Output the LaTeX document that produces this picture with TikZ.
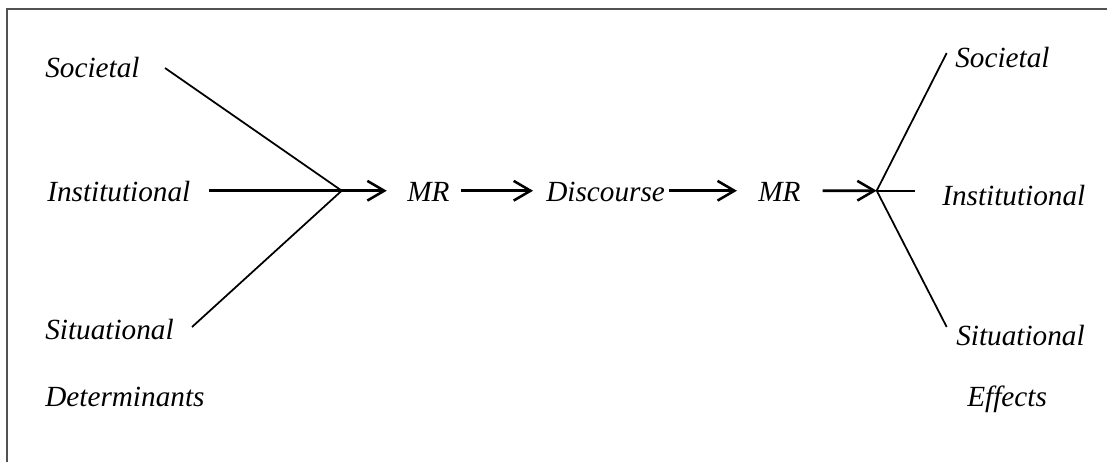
\documentclass[tikz,border=0pt]{standalone}
\usepackage{fontspec}
\setmainfont{Liberation Serif}
\usetikzlibrary{arrows.meta, positioning}

\begin{document}
\begin{tikzpicture}[
    x=0.025cm, y=-0.025cm,
    term/.style={anchor=base west, inner sep=0pt, text height=14.6pt, text depth=0pt,
        font=\fontsize{20.8}{25}\selectfont\itshape},
    arr/.style={-{Straight Barb[length=12pt, width=14pt, line width=1.8pt]}, line width=2pt},
    spoke/.style={line width=1.25pt},
    frame/.style={draw=black!68, line width=1.4pt},
]

\useasboundingbox (0,0) rectangle (1107,462);
\draw[frame] (7,462) -- (7,9) -- (1107,9);

% Left column: determinants
\node[term] (soc-l) at (45,77) {Societal};
\node[term] (inst-l) at (47,201) {Institutional};
\node[term] (sit-l) at (45,339) {Situational};
\node[term] (det) at (45,406) {Determinants};

% Middle row
\node[term] (mr-a) at (407,201) {MR};
\node[term] (disc) at (546,201) {Discourse};
\node[term] (mr-b) at (758,201) {MR};

% Right column: effects
\node[term] (soc-r) at (955,67) {Societal};
\node[term] (inst-r) at (942,205) {Institutional};
\node[term] (sit-r) at (956,345) {Situational};
\node[term] (eff) at (967,406) {Effects};

% Junctions and free line ends
\coordinate (in) at (341.7,190.7);
\coordinate (out) at (876.7,190.7);
\coordinate (soc-l-end) at (165,68);
\coordinate (sit-l-end) at (192,327);
\coordinate (soc-r-end) at (946.7,53);
\coordinate (inst-r-end) at (915,190.7);
\coordinate (sit-r-end) at (946.7,327);

\draw[spoke] (soc-l-end) -- (in) -- (sit-l-end);
\draw[arr, shorten <=12.8pt, shorten >=14.4pt] (inst-l) -- (mr-a);
\draw[arr, shorten <=7.8pt, shorten >=9.2pt] (mr-a) -- (disc);
\draw[arr, shorten <=2.8pt, shorten >=15pt] (disc) -- (mr-b);
\draw[arr, shorten <=15.6pt] (mr-b) -- (out);

\draw[spoke] (soc-r-end) -- (out) -- (sit-r-end);
\draw[spoke] (out) -- (inst-r-end);

\end{tikzpicture}
\end{document}
